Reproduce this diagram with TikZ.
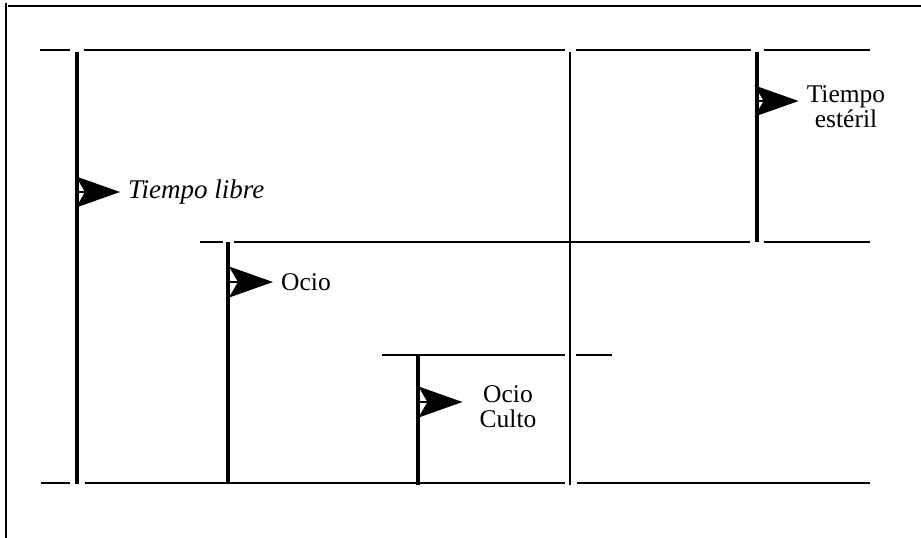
\documentclass[tikz,border=0pt]{standalone}
\usepackage{fontspec}
\setmainfont{Liberation Serif}
\usetikzlibrary{arrows.meta}
\begin{document}
\begin{tikzpicture}[x=1pt,y=-1pt,
  thinline/.style={line width=2pt},
  thickbar/.style={line width=4.2pt},
  pointer/.style={-{Stealth[length=44pt,width=31pt,inset=9pt]}, line width=2pt},
  lbl/.style={font=\fontsize{25.5}{25}\selectfont, inner sep=0pt, align=center}]
\useasboundingbox (0,0) rectangle (921,538);
% frame
\draw[thinline] (6,3) -- (6,538);
\draw[thinline] (8,6) -- (921,6);
% horizontal lines
\draw[thinline] (40,50) -- (70,50) (84,50) -- (565,50) (576,50) -- (751,50) (764,50) -- (870,50);
\draw[thinline] (200,242) -- (223,242) (234,242) -- (750,242) (764,242) -- (870,242);
\draw[thinline] (382,355) -- (565,355) (576,355) -- (612,355);
\draw[thinline] (41,483) -- (70,483) (85,483) -- (565,483) (577,483) -- (870,483);
% verticals
\draw[thickbar] (77,52) -- (77,484);
\draw[thinline] (570,52) -- (570,485);
\draw[thickbar] (757,52) -- (757,242);
\draw[thickbar] (228,242) -- (228,484);
\draw[thickbar] (418,355) -- (418,485);
% labels
\node[lbl, anchor=west, font=\fontsize{27}{27}\selectfont\itshape] (tl) at (128,192) {Tiempo libre};
\node[lbl, anchor=west] (oc) at (281,282) {Ocio};
\node[lbl] (ocu) at (508,407) {Ocio\\Culto};
\node[lbl] (te) at (846,107) {Tiempo\\estéril};
% arrows
\coordinate (p1) at (77,192);
\coordinate (p2) at (228,282);
\coordinate (p3) at (418,402);
\coordinate (p4) at (757,101);
\draw[pointer, shorten >=8pt] (p1) -- (p1 -| tl.west);
\draw[pointer, shorten >=8pt] (p2) -- (p2 -| oc.west);
\draw[pointer, shorten >=17pt] (p3) -- (p3 -| ocu.west);
\draw[pointer, shorten >=8pt] (p4) -- (p4 -| te.west);
\end{tikzpicture}
\end{document}
